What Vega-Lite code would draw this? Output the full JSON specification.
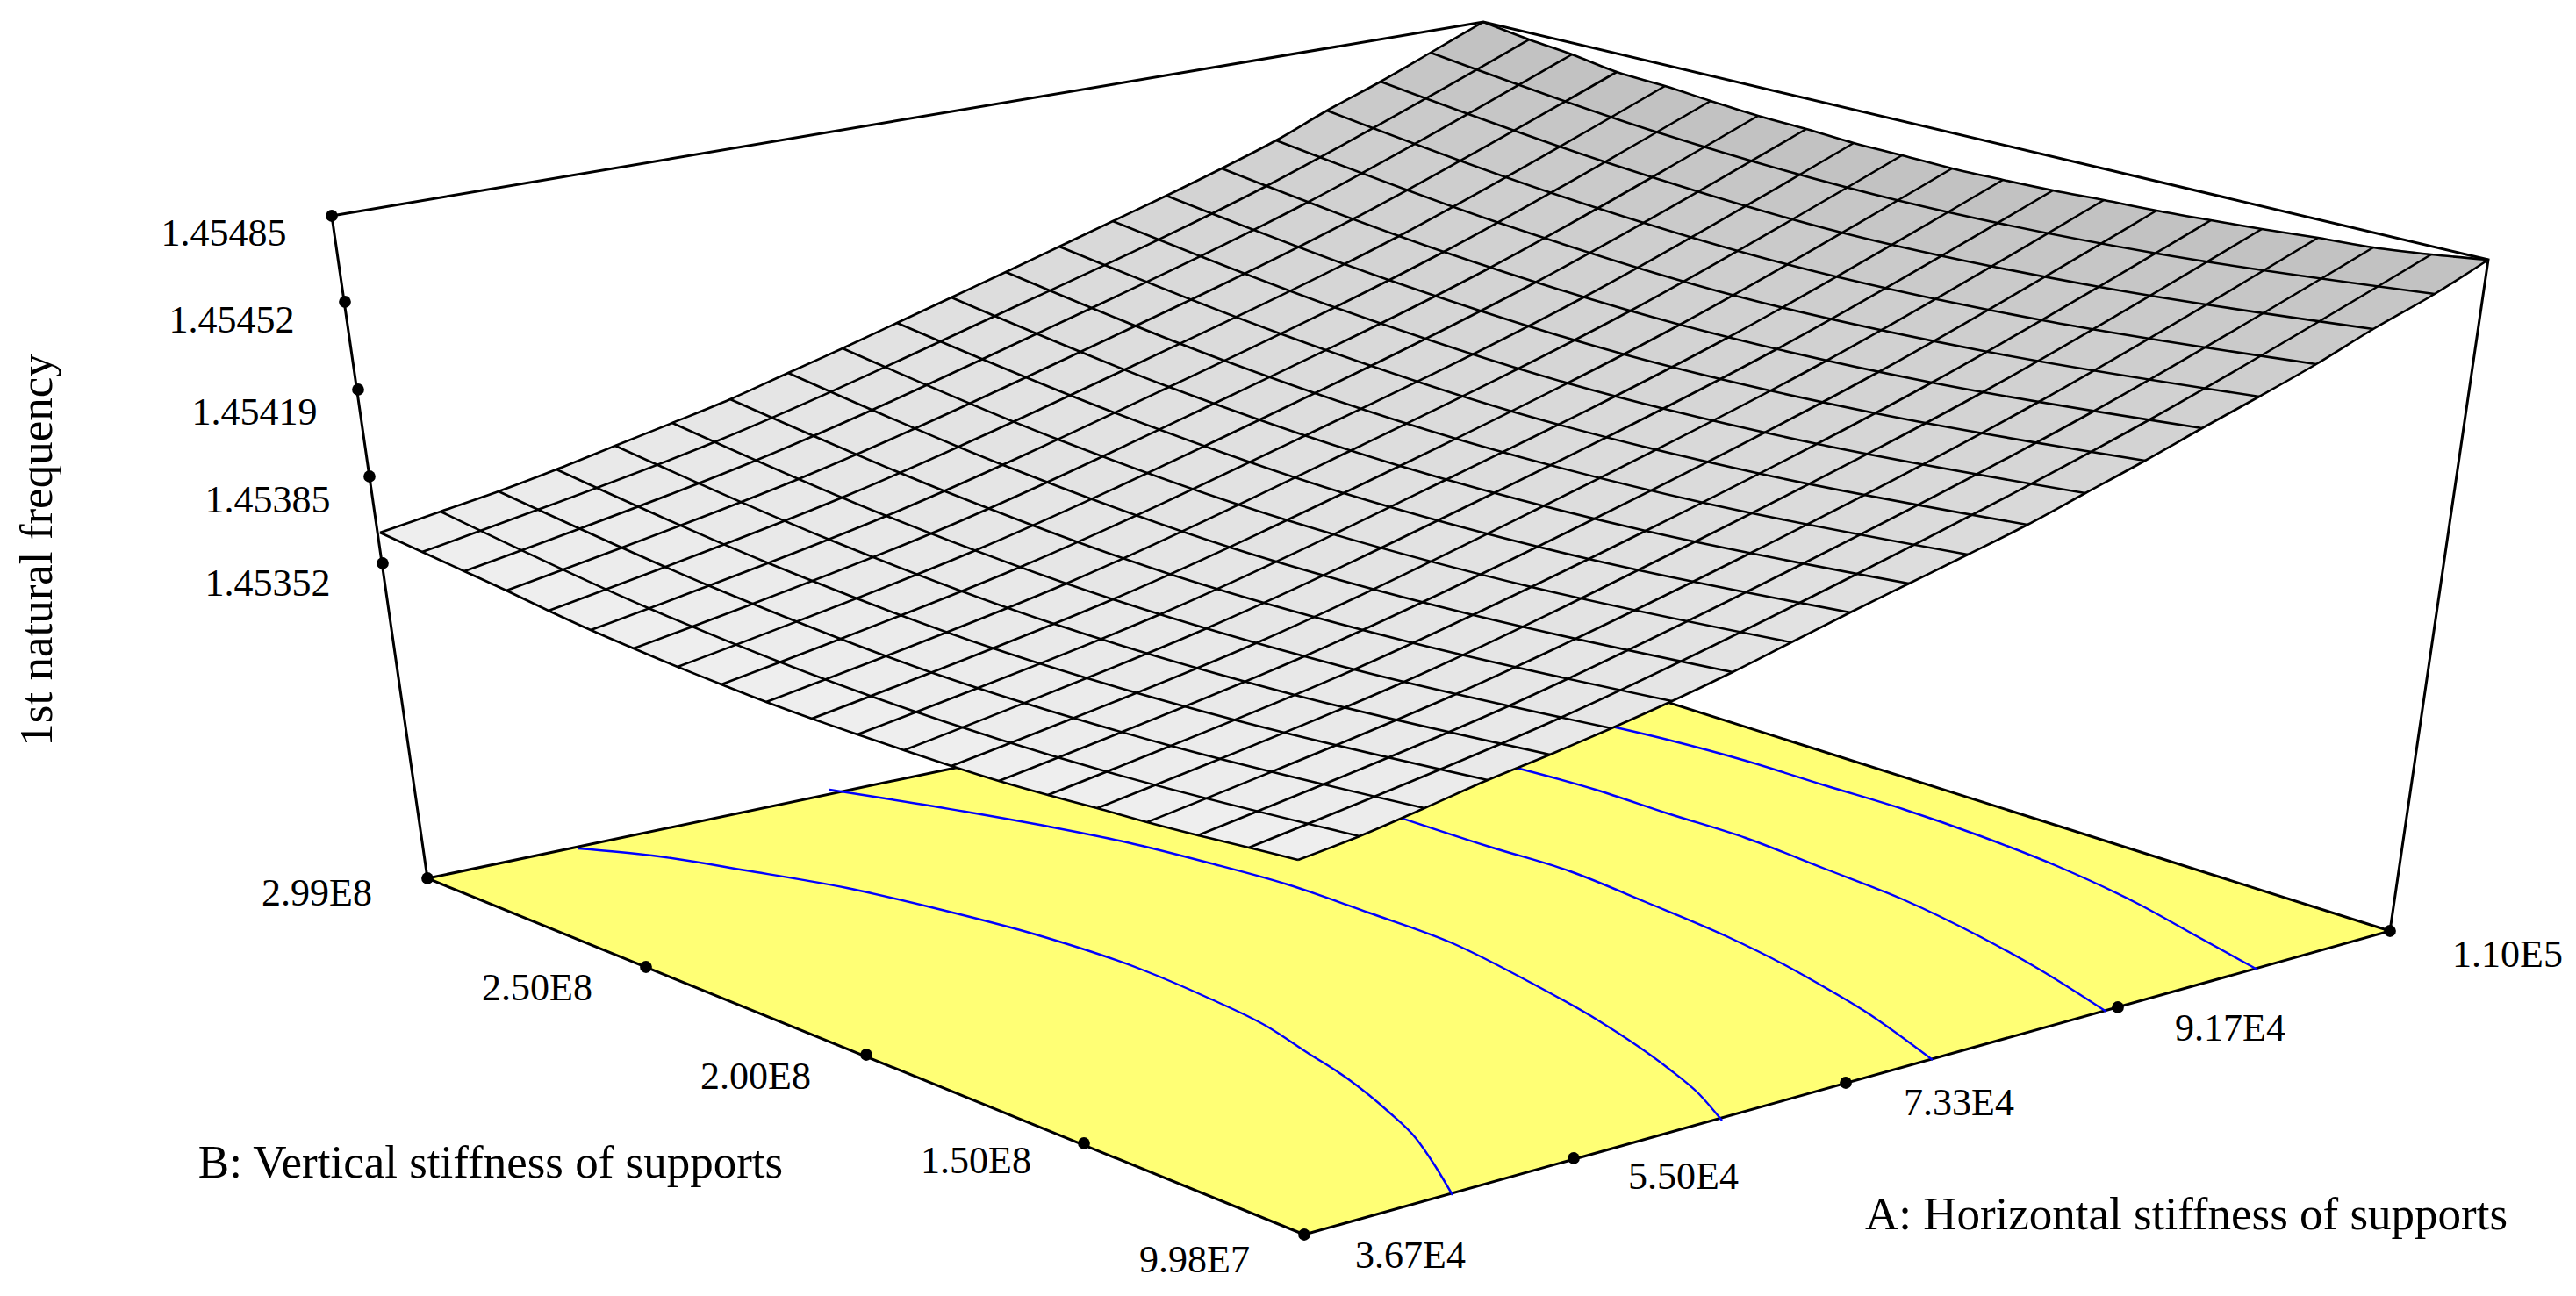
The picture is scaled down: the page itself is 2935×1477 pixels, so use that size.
{"$schema":"https://vega.github.io/schema/vega-lite/v6.json","width":2935,"height":1477,"autosize":{"type":"fit","contains":"padding"},"padding":0,"background":"white","config":{"view":{"stroke":null}},
"datasets":{
"floor":[{"i":0,"x":1486,"y":1407},{"i":1,"x":487,"y":1001},{"i":2,"x":1719,"y":743},{"i":3,"x":2723,"y":1061},{"i":4,"x":1486,"y":1407}],
"contours":[
{"line":"c1","i":0,"x":659,"y":967},{"line":"c1","i":1,"x":743,"y":975},{"line":"c1","i":2,"x":850,"y":992},{"line":"c1","i":3,"x":965,"y":1012},{"line":"c1","i":4,"x":1065,"y":1035},{"line":"c1","i":5,"x":1180,"y":1065},{"line":"c1","i":6,"x":1301,"y":1105},{"line":"c1","i":7,"x":1376,"y":1137},{"line":"c1","i":8,"x":1444,"y":1170},{"line":"c1","i":9,"x":1490,"y":1200},{"line":"c1","i":10,"x":1535,"y":1229},{"line":"c1","i":11,"x":1582,"y":1267},{"line":"c1","i":12,"x":1613,"y":1297},{"line":"c1","i":13,"x":1634,"y":1327},{"line":"c1","i":14,"x":1655,"y":1362},
{"line":"c2","i":0,"x":945,"y":900},{"line":"c2","i":1,"x":1100,"y":925},{"line":"c2","i":2,"x":1195,"y":942},{"line":"c2","i":3,"x":1284,"y":960},{"line":"c2","i":4,"x":1376,"y":983},{"line":"c2","i":5,"x":1467,"y":1008},{"line":"c2","i":6,"x":1559,"y":1040},{"line":"c2","i":7,"x":1655,"y":1075},{"line":"c2","i":8,"x":1748,"y":1122},{"line":"c2","i":9,"x":1821,"y":1163},{"line":"c2","i":10,"x":1900,"y":1217},{"line":"c2","i":11,"x":1936,"y":1247},{"line":"c2","i":12,"x":1962,"y":1277},
{"line":"c3","i":0,"x":1560,"y":920},{"line":"c3","i":1,"x":1697,"y":965},{"line":"c3","i":2,"x":1789,"y":993},{"line":"c3","i":3,"x":1875,"y":1028},{"line":"c3","i":4,"x":1967,"y":1067},{"line":"c3","i":5,"x":2034,"y":1100},{"line":"c3","i":6,"x":2070,"y":1120},{"line":"c3","i":7,"x":2124,"y":1152},{"line":"c3","i":8,"x":2202,"y":1208},
{"line":"c4","i":0,"x":1700,"y":868},{"line":"c4","i":1,"x":1818,"y":900},{"line":"c4","i":2,"x":1900,"y":927},{"line":"c4","i":3,"x":1989,"y":955},{"line":"c4","i":4,"x":2079,"y":990},{"line":"c4","i":5,"x":2168,"y":1025},{"line":"c4","i":6,"x":2257,"y":1068},{"line":"c4","i":7,"x":2324,"y":1105},{"line":"c4","i":8,"x":2400,"y":1153},
{"line":"c5","i":0,"x":1810,"y":822},{"line":"c5","i":1,"x":1900,"y":843},{"line":"c5","i":2,"x":1989,"y":867},{"line":"c5","i":3,"x":2079,"y":895},{"line":"c5","i":4,"x":2168,"y":922},{"line":"c5","i":5,"x":2257,"y":953},{"line":"c5","i":6,"x":2346,"y":988},{"line":"c5","i":7,"x":2436,"y":1030},{"line":"c5","i":8,"x":2503,"y":1067},{"line":"c5","i":9,"x":2572,"y":1105}],
"strips":[
{"u":0,"i":0,"x":1549,"y":953},{"u":0,"i":1,"x":1263,"y":880},{"u":0,"i":2,"x":994,"y":794},{"u":0,"i":3,"x":741,"y":694},{"u":0,"i":4,"x":502,"y":583},{"u":0,"i":5,"x":433,"y":607},{"u":0,"i":6,"x":481,"y":629},{"u":0,"i":7,"x":529,"y":651},{"u":0,"i":8,"x":577,"y":673},{"u":0,"i":9,"x":625,"y":696},{"u":0,"i":10,"x":673,"y":718},{"u":0,"i":11,"x":722,"y":739},{"u":0,"i":12,"x":772,"y":760},{"u":0,"i":13,"x":822,"y":780},{"u":0,"i":14,"x":873,"y":800},{"u":0,"i":15,"x":925,"y":819},{"u":0,"i":16,"x":977,"y":837},{"u":0,"i":17,"x":1030,"y":855},{"u":0,"i":18,"x":1084,"y":873},{"u":0,"i":19,"x":1138,"y":890},{"u":0,"i":20,"x":1194,"y":906},{"u":0,"i":21,"x":1250,"y":921},{"u":0,"i":22,"x":1307,"y":937},{"u":0,"i":23,"x":1365,"y":952},{"u":0,"i":24,"x":1423,"y":966},{"u":0,"i":25,"x":1479,"y":980},
{"u":1,"i":0,"x":1623,"y":921},{"u":1,"i":1,"x":1334,"y":850},{"u":1,"i":2,"x":1063,"y":767},{"u":1,"i":3,"x":809,"y":668},{"u":1,"i":4,"x":568,"y":560},{"u":1,"i":5,"x":502,"y":583},{"u":1,"i":6,"x":741,"y":694},{"u":1,"i":7,"x":994,"y":794},{"u":1,"i":8,"x":1263,"y":880},{"u":1,"i":9,"x":1549,"y":953},
{"u":2,"i":0,"x":1695,"y":889},{"u":2,"i":1,"x":1405,"y":820},{"u":2,"i":2,"x":1132,"y":739},{"u":2,"i":3,"x":876,"y":642},{"u":2,"i":4,"x":634,"y":535},{"u":2,"i":5,"x":568,"y":560},{"u":2,"i":6,"x":809,"y":668},{"u":2,"i":7,"x":1063,"y":767},{"u":2,"i":8,"x":1334,"y":850},{"u":2,"i":9,"x":1623,"y":921},
{"u":3,"i":0,"x":1766,"y":860},{"u":3,"i":1,"x":1475,"y":792},{"u":3,"i":2,"x":1201,"y":711},{"u":3,"i":3,"x":945,"y":615},{"u":3,"i":4,"x":701,"y":508},{"u":3,"i":5,"x":634,"y":535},{"u":3,"i":6,"x":876,"y":642},{"u":3,"i":7,"x":1132,"y":739},{"u":3,"i":8,"x":1405,"y":820},{"u":3,"i":9,"x":1695,"y":889},
{"u":4,"i":0,"x":1836,"y":830},{"u":4,"i":1,"x":1543,"y":763},{"u":4,"i":2,"x":1268,"y":683},{"u":4,"i":3,"x":1010,"y":588},{"u":4,"i":4,"x":766,"y":482},{"u":4,"i":5,"x":701,"y":508},{"u":4,"i":6,"x":945,"y":615},{"u":4,"i":7,"x":1201,"y":711},{"u":4,"i":8,"x":1475,"y":792},{"u":4,"i":9,"x":1766,"y":860},
{"u":5,"i":0,"x":1905,"y":799},{"u":5,"i":1,"x":1611,"y":733},{"u":5,"i":2,"x":1335,"y":655},{"u":5,"i":3,"x":1077,"y":560},{"u":5,"i":4,"x":832,"y":455},{"u":5,"i":5,"x":766,"y":482},{"u":5,"i":6,"x":1010,"y":588},{"u":5,"i":7,"x":1268,"y":683},{"u":5,"i":8,"x":1543,"y":763},{"u":5,"i":9,"x":1836,"y":830},
{"u":6,"i":0,"x":1974,"y":766},{"u":6,"i":1,"x":1679,"y":701},{"u":6,"i":2,"x":1402,"y":624},{"u":6,"i":3,"x":1143,"y":530},{"u":6,"i":4,"x":898,"y":425},{"u":6,"i":5,"x":832,"y":455},{"u":6,"i":6,"x":1077,"y":560},{"u":6,"i":7,"x":1335,"y":655},{"u":6,"i":8,"x":1611,"y":733},{"u":6,"i":9,"x":1905,"y":799},
{"u":7,"i":0,"x":2041,"y":732},{"u":7,"i":1,"x":1745,"y":669},{"u":7,"i":2,"x":1467,"y":593},{"u":7,"i":3,"x":1206,"y":501},{"u":7,"i":4,"x":960,"y":397},{"u":7,"i":5,"x":898,"y":425},{"u":7,"i":6,"x":1143,"y":530},{"u":7,"i":7,"x":1402,"y":624},{"u":7,"i":8,"x":1679,"y":701},{"u":7,"i":9,"x":1974,"y":766},
{"u":8,"i":0,"x":2108,"y":698},{"u":8,"i":1,"x":1810,"y":637},{"u":8,"i":2,"x":1531,"y":562},{"u":8,"i":3,"x":1269,"y":470},{"u":8,"i":4,"x":1022,"y":368},{"u":8,"i":5,"x":960,"y":397},{"u":8,"i":6,"x":1206,"y":501},{"u":8,"i":7,"x":1467,"y":593},{"u":8,"i":8,"x":1745,"y":669},{"u":8,"i":9,"x":2041,"y":732},
{"u":9,"i":0,"x":2175,"y":665},{"u":9,"i":1,"x":1875,"y":605},{"u":9,"i":2,"x":1595,"y":531},{"u":9,"i":3,"x":1332,"y":441},{"u":9,"i":4,"x":1084,"y":339},{"u":9,"i":5,"x":1022,"y":368},{"u":9,"i":6,"x":1269,"y":470},{"u":9,"i":7,"x":1531,"y":562},{"u":9,"i":8,"x":1810,"y":637},{"u":9,"i":9,"x":2108,"y":698},
{"u":10,"i":0,"x":2242,"y":632},{"u":10,"i":1,"x":1941,"y":573},{"u":10,"i":2,"x":1659,"y":500},{"u":10,"i":3,"x":1395,"y":411},{"u":10,"i":4,"x":1146,"y":310},{"u":10,"i":5,"x":1084,"y":339},{"u":10,"i":6,"x":1332,"y":441},{"u":10,"i":7,"x":1595,"y":531},{"u":10,"i":8,"x":1875,"y":605},{"u":10,"i":9,"x":2175,"y":665},
{"u":11,"i":0,"x":2310,"y":598},{"u":11,"i":1,"x":2006,"y":540},{"u":11,"i":2,"x":1723,"y":469},{"u":11,"i":3,"x":1458,"y":380},{"u":11,"i":4,"x":1207,"y":281},{"u":11,"i":5,"x":1146,"y":310},{"u":11,"i":6,"x":1395,"y":411},{"u":11,"i":7,"x":1659,"y":500},{"u":11,"i":8,"x":1941,"y":573},{"u":11,"i":9,"x":2242,"y":632},
{"u":12,"i":0,"x":2376,"y":562},{"u":12,"i":1,"x":2071,"y":506},{"u":12,"i":2,"x":1787,"y":437},{"u":12,"i":3,"x":1520,"y":350},{"u":12,"i":4,"x":1268,"y":252},{"u":12,"i":5,"x":1207,"y":281},{"u":12,"i":6,"x":1458,"y":380},{"u":12,"i":7,"x":1723,"y":469},{"u":12,"i":8,"x":2006,"y":540},{"u":12,"i":9,"x":2310,"y":598},
{"u":13,"i":0,"x":2444,"y":525},{"u":13,"i":1,"x":2137,"y":471},{"u":13,"i":2,"x":1851,"y":404},{"u":13,"i":3,"x":1582,"y":319},{"u":13,"i":4,"x":1329,"y":223},{"u":13,"i":5,"x":1268,"y":252},{"u":13,"i":6,"x":1520,"y":350},{"u":13,"i":7,"x":1787,"y":437},{"u":13,"i":8,"x":2071,"y":506},{"u":13,"i":9,"x":2376,"y":562},
{"u":14,"i":0,"x":2509,"y":488},{"u":14,"i":1,"x":2201,"y":436},{"u":14,"i":2,"x":1914,"y":370},{"u":14,"i":3,"x":1645,"y":287},{"u":14,"i":4,"x":1392,"y":192},{"u":14,"i":5,"x":1329,"y":223},{"u":14,"i":6,"x":1582,"y":319},{"u":14,"i":7,"x":1851,"y":404},{"u":14,"i":8,"x":2137,"y":471},{"u":14,"i":9,"x":2444,"y":525},
{"u":15,"i":0,"x":2574,"y":452},{"u":15,"i":1,"x":2265,"y":401},{"u":15,"i":2,"x":1977,"y":337},{"u":15,"i":3,"x":1708,"y":254},{"u":15,"i":4,"x":1454,"y":160},{"u":15,"i":5,"x":1392,"y":192},{"u":15,"i":6,"x":1645,"y":287},{"u":15,"i":7,"x":1914,"y":370},{"u":15,"i":8,"x":2201,"y":436},{"u":15,"i":9,"x":2509,"y":488},
{"u":16,"i":0,"x":2639,"y":415},{"u":16,"i":1,"x":2327,"y":365},{"u":16,"i":2,"x":2039,"y":302},{"u":16,"i":3,"x":1768,"y":220},{"u":16,"i":4,"x":1512,"y":126},{"u":16,"i":5,"x":1454,"y":160},{"u":16,"i":6,"x":1708,"y":254},{"u":16,"i":7,"x":1977,"y":337},{"u":16,"i":8,"x":2265,"y":401},{"u":16,"i":9,"x":2574,"y":452},
{"u":17,"i":0,"x":2704,"y":375},{"u":17,"i":1,"x":2392,"y":327},{"u":17,"i":2,"x":2102,"y":266},{"u":17,"i":3,"x":1830,"y":185},{"u":17,"i":4,"x":1573,"y":93},{"u":17,"i":5,"x":1512,"y":126},{"u":17,"i":6,"x":1768,"y":220},{"u":17,"i":7,"x":2039,"y":302},{"u":17,"i":8,"x":2327,"y":365},{"u":17,"i":9,"x":2639,"y":415},
{"u":18,"i":0,"x":2774,"y":335},{"u":18,"i":1,"x":2458,"y":289},{"u":18,"i":2,"x":2165,"y":229},{"u":18,"i":3,"x":1889,"y":151},{"u":18,"i":4,"x":1630,"y":60},{"u":18,"i":5,"x":1573,"y":93},{"u":18,"i":6,"x":1830,"y":185},{"u":18,"i":7,"x":2102,"y":266},{"u":18,"i":8,"x":2392,"y":327},{"u":18,"i":9,"x":2704,"y":375},
{"u":19,"i":0,"x":2835,"y":296},{"u":19,"i":1,"x":2770,"y":290},{"u":19,"i":2,"x":2704,"y":282},{"u":19,"i":3,"x":2641,"y":271},{"u":19,"i":4,"x":2577,"y":261},{"u":19,"i":5,"x":2519,"y":251},{"u":19,"i":6,"x":2457,"y":240},{"u":19,"i":7,"x":2397,"y":228},{"u":19,"i":8,"x":2339,"y":217},{"u":19,"i":9,"x":2282,"y":205},{"u":19,"i":10,"x":2224,"y":192},{"u":19,"i":11,"x":2167,"y":177},{"u":19,"i":12,"x":2112,"y":163},{"u":19,"i":13,"x":2058,"y":147},{"u":19,"i":14,"x":2003,"y":132},{"u":19,"i":15,"x":1949,"y":115},{"u":19,"i":16,"x":1897,"y":98},{"u":19,"i":17,"x":1842,"y":82},{"u":19,"i":18,"x":1791,"y":62},{"u":19,"i":19,"x":1742,"y":45},{"u":19,"i":20,"x":1690,"y":25},{"u":19,"i":21,"x":1630,"y":60},{"u":19,"i":22,"x":1889,"y":151},{"u":19,"i":23,"x":2165,"y":229},{"u":19,"i":24,"x":2458,"y":289},{"u":19,"i":25,"x":2774,"y":335}],
"grid":[
{"line":"u0","i":0,"x":1479,"y":980},{"line":"u0","i":1,"x":1423,"y":966},{"line":"u0","i":2,"x":1365,"y":952},{"line":"u0","i":3,"x":1307,"y":937},{"line":"u0","i":4,"x":1250,"y":921},{"line":"u0","i":5,"x":1194,"y":906},{"line":"u0","i":6,"x":1138,"y":890},{"line":"u0","i":7,"x":1084,"y":873},{"line":"u0","i":8,"x":1030,"y":855},{"line":"u0","i":9,"x":977,"y":837},{"line":"u0","i":10,"x":925,"y":819},{"line":"u0","i":11,"x":873,"y":800},{"line":"u0","i":12,"x":822,"y":780},{"line":"u0","i":13,"x":772,"y":760},{"line":"u0","i":14,"x":722,"y":739},{"line":"u0","i":15,"x":673,"y":718},{"line":"u0","i":16,"x":625,"y":696},{"line":"u0","i":17,"x":577,"y":673},{"line":"u0","i":18,"x":529,"y":651},{"line":"u0","i":19,"x":481,"y":629},{"line":"u0","i":20,"x":433,"y":607},
{"line":"u1","i":0,"x":1549,"y":953},{"line":"u1","i":1,"x":1263,"y":880},{"line":"u1","i":2,"x":994,"y":794},{"line":"u1","i":3,"x":741,"y":694},{"line":"u1","i":4,"x":502,"y":583},
{"line":"u2","i":0,"x":1623,"y":921},{"line":"u2","i":1,"x":1334,"y":850},{"line":"u2","i":2,"x":1063,"y":767},{"line":"u2","i":3,"x":809,"y":668},{"line":"u2","i":4,"x":568,"y":560},
{"line":"u3","i":0,"x":1695,"y":889},{"line":"u3","i":1,"x":1405,"y":820},{"line":"u3","i":2,"x":1132,"y":739},{"line":"u3","i":3,"x":876,"y":642},{"line":"u3","i":4,"x":634,"y":535},
{"line":"u4","i":0,"x":1766,"y":860},{"line":"u4","i":1,"x":1475,"y":792},{"line":"u4","i":2,"x":1201,"y":711},{"line":"u4","i":3,"x":945,"y":615},{"line":"u4","i":4,"x":701,"y":508},
{"line":"u5","i":0,"x":1836,"y":830},{"line":"u5","i":1,"x":1543,"y":763},{"line":"u5","i":2,"x":1268,"y":683},{"line":"u5","i":3,"x":1010,"y":588},{"line":"u5","i":4,"x":766,"y":482},
{"line":"u6","i":0,"x":1905,"y":799},{"line":"u6","i":1,"x":1611,"y":733},{"line":"u6","i":2,"x":1335,"y":655},{"line":"u6","i":3,"x":1077,"y":560},{"line":"u6","i":4,"x":832,"y":455},
{"line":"u7","i":0,"x":1974,"y":766},{"line":"u7","i":1,"x":1679,"y":701},{"line":"u7","i":2,"x":1402,"y":624},{"line":"u7","i":3,"x":1143,"y":530},{"line":"u7","i":4,"x":898,"y":425},
{"line":"u8","i":0,"x":2041,"y":732},{"line":"u8","i":1,"x":1745,"y":669},{"line":"u8","i":2,"x":1467,"y":593},{"line":"u8","i":3,"x":1206,"y":501},{"line":"u8","i":4,"x":960,"y":397},
{"line":"u9","i":0,"x":2108,"y":698},{"line":"u9","i":1,"x":1810,"y":637},{"line":"u9","i":2,"x":1531,"y":562},{"line":"u9","i":3,"x":1269,"y":470},{"line":"u9","i":4,"x":1022,"y":368},
{"line":"u10","i":0,"x":2175,"y":665},{"line":"u10","i":1,"x":1875,"y":605},{"line":"u10","i":2,"x":1595,"y":531},{"line":"u10","i":3,"x":1332,"y":441},{"line":"u10","i":4,"x":1084,"y":339},
{"line":"u11","i":0,"x":2242,"y":632},{"line":"u11","i":1,"x":1941,"y":573},{"line":"u11","i":2,"x":1659,"y":500},{"line":"u11","i":3,"x":1395,"y":411},{"line":"u11","i":4,"x":1146,"y":310},
{"line":"u12","i":0,"x":2310,"y":598},{"line":"u12","i":1,"x":2006,"y":540},{"line":"u12","i":2,"x":1723,"y":469},{"line":"u12","i":3,"x":1458,"y":380},{"line":"u12","i":4,"x":1207,"y":281},
{"line":"u13","i":0,"x":2376,"y":562},{"line":"u13","i":1,"x":2071,"y":506},{"line":"u13","i":2,"x":1787,"y":437},{"line":"u13","i":3,"x":1520,"y":350},{"line":"u13","i":4,"x":1268,"y":252},
{"line":"u14","i":0,"x":2444,"y":525},{"line":"u14","i":1,"x":2137,"y":471},{"line":"u14","i":2,"x":1851,"y":404},{"line":"u14","i":3,"x":1582,"y":319},{"line":"u14","i":4,"x":1329,"y":223},
{"line":"u15","i":0,"x":2509,"y":488},{"line":"u15","i":1,"x":2201,"y":436},{"line":"u15","i":2,"x":1914,"y":370},{"line":"u15","i":3,"x":1645,"y":287},{"line":"u15","i":4,"x":1392,"y":192},
{"line":"u16","i":0,"x":2574,"y":452},{"line":"u16","i":1,"x":2265,"y":401},{"line":"u16","i":2,"x":1977,"y":337},{"line":"u16","i":3,"x":1708,"y":254},{"line":"u16","i":4,"x":1454,"y":160},
{"line":"u17","i":0,"x":2639,"y":415},{"line":"u17","i":1,"x":2327,"y":365},{"line":"u17","i":2,"x":2039,"y":302},{"line":"u17","i":3,"x":1768,"y":220},{"line":"u17","i":4,"x":1512,"y":126},
{"line":"u18","i":0,"x":2704,"y":375},{"line":"u18","i":1,"x":2392,"y":327},{"line":"u18","i":2,"x":2102,"y":266},{"line":"u18","i":3,"x":1830,"y":185},{"line":"u18","i":4,"x":1573,"y":93},
{"line":"u19","i":0,"x":2774,"y":335},{"line":"u19","i":1,"x":2458,"y":289},{"line":"u19","i":2,"x":2165,"y":229},{"line":"u19","i":3,"x":1889,"y":151},{"line":"u19","i":4,"x":1630,"y":60},
{"line":"u20","i":0,"x":2835,"y":296},{"line":"u20","i":1,"x":2770,"y":290},{"line":"u20","i":2,"x":2704,"y":282},{"line":"u20","i":3,"x":2641,"y":271},{"line":"u20","i":4,"x":2577,"y":261},{"line":"u20","i":5,"x":2519,"y":251},{"line":"u20","i":6,"x":2457,"y":240},{"line":"u20","i":7,"x":2397,"y":228},{"line":"u20","i":8,"x":2339,"y":217},{"line":"u20","i":9,"x":2282,"y":205},{"line":"u20","i":10,"x":2224,"y":192},{"line":"u20","i":11,"x":2167,"y":177},{"line":"u20","i":12,"x":2112,"y":163},{"line":"u20","i":13,"x":2058,"y":147},{"line":"u20","i":14,"x":2003,"y":132},{"line":"u20","i":15,"x":1949,"y":115},{"line":"u20","i":16,"x":1897,"y":98},{"line":"u20","i":17,"x":1842,"y":82},{"line":"u20","i":18,"x":1791,"y":62},{"line":"u20","i":19,"x":1742,"y":45},{"line":"u20","i":20,"x":1690,"y":25},
{"line":"v0","i":0,"x":1479,"y":980},{"line":"v0","i":1,"x":1549,"y":953},{"line":"v0","i":2,"x":1623,"y":921},{"line":"v0","i":3,"x":1695,"y":889},{"line":"v0","i":4,"x":1766,"y":860},{"line":"v0","i":5,"x":1836,"y":830},{"line":"v0","i":6,"x":1905,"y":799},{"line":"v0","i":7,"x":1974,"y":766},{"line":"v0","i":8,"x":2041,"y":732},{"line":"v0","i":9,"x":2108,"y":698},{"line":"v0","i":10,"x":2175,"y":665},{"line":"v0","i":11,"x":2242,"y":632},{"line":"v0","i":12,"x":2310,"y":598},{"line":"v0","i":13,"x":2376,"y":562},{"line":"v0","i":14,"x":2444,"y":525},{"line":"v0","i":15,"x":2509,"y":488},{"line":"v0","i":16,"x":2574,"y":452},{"line":"v0","i":17,"x":2639,"y":415},{"line":"v0","i":18,"x":2704,"y":375},{"line":"v0","i":19,"x":2774,"y":335},{"line":"v0","i":20,"x":2835,"y":296},
{"line":"v1","i":0,"x":1423,"y":966},{"line":"v1","i":1,"x":1778,"y":818},{"line":"v1","i":2,"x":2114,"y":655},{"line":"v1","i":3,"x":2446,"y":480},{"line":"v1","i":4,"x":2770,"y":290},
{"line":"v2","i":0,"x":1365,"y":952},{"line":"v2","i":1,"x":1718,"y":805},{"line":"v2","i":2,"x":2053,"y":643},{"line":"v2","i":3,"x":2383,"y":470},{"line":"v2","i":4,"x":2704,"y":282},
{"line":"v3","i":0,"x":1307,"y":937},{"line":"v3","i":1,"x":1659,"y":791},{"line":"v3","i":2,"x":1993,"y":631},{"line":"v3","i":3,"x":2321,"y":459},{"line":"v3","i":4,"x":2641,"y":271},
{"line":"v4","i":0,"x":1250,"y":921},{"line":"v4","i":1,"x":1600,"y":777},{"line":"v4","i":2,"x":1932,"y":617},{"line":"v4","i":3,"x":2259,"y":447},{"line":"v4","i":4,"x":2577,"y":261},
{"line":"v5","i":0,"x":1194,"y":906},{"line":"v5","i":1,"x":1543,"y":763},{"line":"v5","i":2,"x":1875,"y":605},{"line":"v5","i":3,"x":2201,"y":436},{"line":"v5","i":4,"x":2519,"y":251},
{"line":"v6","i":0,"x":1138,"y":890},{"line":"v6","i":1,"x":1486,"y":748},{"line":"v6","i":2,"x":1817,"y":591},{"line":"v6","i":3,"x":2142,"y":423},{"line":"v6","i":4,"x":2457,"y":240},
{"line":"v7","i":0,"x":1084,"y":873},{"line":"v7","i":1,"x":1431,"y":733},{"line":"v7","i":2,"x":1760,"y":576},{"line":"v7","i":3,"x":2083,"y":410},{"line":"v7","i":4,"x":2397,"y":228},
{"line":"v8","i":0,"x":1030,"y":855},{"line":"v8","i":1,"x":1375,"y":716},{"line":"v8","i":2,"x":1704,"y":561},{"line":"v8","i":3,"x":2026,"y":397},{"line":"v8","i":4,"x":2339,"y":217},
{"line":"v9","i":0,"x":977,"y":837},{"line":"v9","i":1,"x":1322,"y":700},{"line":"v9","i":2,"x":1649,"y":546},{"line":"v9","i":3,"x":1970,"y":384},{"line":"v9","i":4,"x":2282,"y":205},
{"line":"v10","i":0,"x":925,"y":819},{"line":"v10","i":1,"x":1268,"y":683},{"line":"v10","i":2,"x":1595,"y":531},{"line":"v10","i":3,"x":1914,"y":370},{"line":"v10","i":4,"x":2224,"y":192},
{"line":"v11","i":0,"x":873,"y":800},{"line":"v11","i":1,"x":1215,"y":665},{"line":"v11","i":2,"x":1540,"y":513},{"line":"v11","i":3,"x":1858,"y":354},{"line":"v11","i":4,"x":2167,"y":177},
{"line":"v12","i":0,"x":822,"y":780},{"line":"v12","i":1,"x":1163,"y":646},{"line":"v12","i":2,"x":1488,"y":496},{"line":"v12","i":3,"x":1804,"y":339},{"line":"v12","i":4,"x":2112,"y":163},
{"line":"v13","i":0,"x":772,"y":760},{"line":"v13","i":1,"x":1112,"y":627},{"line":"v13","i":2,"x":1436,"y":478},{"line":"v13","i":3,"x":1751,"y":321},{"line":"v13","i":4,"x":2058,"y":147},
{"line":"v14","i":0,"x":722,"y":739},{"line":"v14","i":1,"x":1061,"y":608},{"line":"v14","i":2,"x":1383,"y":460},{"line":"v14","i":3,"x":1698,"y":305},{"line":"v14","i":4,"x":2003,"y":132},
{"line":"v15","i":0,"x":673,"y":718},{"line":"v15","i":1,"x":1010,"y":588},{"line":"v15","i":2,"x":1332,"y":441},{"line":"v15","i":3,"x":1645,"y":287},{"line":"v15","i":4,"x":1949,"y":115},
{"line":"v16","i":0,"x":625,"y":696},{"line":"v16","i":1,"x":962,"y":566},{"line":"v16","i":2,"x":1282,"y":421},{"line":"v16","i":3,"x":1594,"y":269},{"line":"v16","i":4,"x":1897,"y":98},
{"line":"v17","i":0,"x":577,"y":673},{"line":"v17","i":1,"x":912,"y":545},{"line":"v17","i":2,"x":1231,"y":401},{"line":"v17","i":3,"x":1541,"y":250},{"line":"v17","i":4,"x":1842,"y":82},
{"line":"v18","i":0,"x":529,"y":651},{"line":"v18","i":1,"x":863,"y":524},{"line":"v18","i":2,"x":1182,"y":380},{"line":"v18","i":3,"x":1491,"y":230},{"line":"v18","i":4,"x":1791,"y":62},
{"line":"v19","i":0,"x":481,"y":629},{"line":"v19","i":1,"x":816,"y":503},{"line":"v19","i":2,"x":1134,"y":360},{"line":"v19","i":3,"x":1443,"y":212},{"line":"v19","i":4,"x":1742,"y":45},
{"line":"v20","i":0,"x":433,"y":607},{"line":"v20","i":1,"x":502,"y":583},{"line":"v20","i":2,"x":568,"y":560},{"line":"v20","i":3,"x":634,"y":535},{"line":"v20","i":4,"x":701,"y":508},{"line":"v20","i":5,"x":766,"y":482},{"line":"v20","i":6,"x":832,"y":455},{"line":"v20","i":7,"x":898,"y":425},{"line":"v20","i":8,"x":960,"y":397},{"line":"v20","i":9,"x":1022,"y":368},{"line":"v20","i":10,"x":1084,"y":339},{"line":"v20","i":11,"x":1146,"y":310},{"line":"v20","i":12,"x":1207,"y":281},{"line":"v20","i":13,"x":1268,"y":252},{"line":"v20","i":14,"x":1329,"y":223},{"line":"v20","i":15,"x":1392,"y":192},{"line":"v20","i":16,"x":1454,"y":160},{"line":"v20","i":17,"x":1512,"y":126},{"line":"v20","i":18,"x":1573,"y":93},{"line":"v20","i":19,"x":1630,"y":60},{"line":"v20","i":20,"x":1690,"y":25}],
"frame":[{"i":0,"x":487,"y":1001},{"i":1,"x":378,"y":246},{"i":2,"x":1690,"y":25},{"i":3,"x":2835,"y":296},{"i":4,"x":2723,"y":1061}],
"dots":[{"x":378,"y":246},{"x":393,"y":344},{"x":408,"y":444},{"x":421,"y":543},{"x":436,"y":642},{"x":487,"y":1001},{"x":736,"y":1102},{"x":987,"y":1202},{"x":1235,"y":1303},{"x":1486,"y":1407},{"x":1793,"y":1320},{"x":2103,"y":1234},{"x":2413,"y":1148},{"x":2723,"y":1061}],
"labels":[{"t":"1.45485","x":255,"y":267},{"t":"1.45452","x":264,"y":366},{"t":"1.45419","x":290,"y":471},{"t":"1.45385","x":305,"y":571},{"t":"1.45352","x":305,"y":666},{"t":"2.99E8","x":361,"y":1019},{"t":"2.50E8","x":612,"y":1127},{"t":"2.00E8","x":861,"y":1228},{"t":"1.50E8","x":1112,"y":1324},{"t":"9.98E7","x":1361,"y":1437},{"t":"3.67E4","x":1607,"y":1432},{"t":"5.50E4","x":1918,"y":1342},{"t":"7.33E4","x":2232,"y":1258},{"t":"9.17E4","x":2541,"y":1173},{"t":"1.10E5","x":2857,"y":1089}],
"titles":[{"t":"A: Horizontal stiffness of supports","x":2491,"y":1385},{"t":"B: Vertical stiffness of supports","x":559,"y":1326}],
"ytitle":[{"t":"1st natural frequency","x":43,"y":627}]
},
"encoding":{"x":{"field":"x","type":"quantitative","scale":{"domain":[0,2935],"nice":false,"zero":false},"axis":null},"y":{"field":"y","type":"quantitative","scale":{"domain":[1477,0],"nice":false,"zero":false},"axis":null}},
"layer":[
{"data":{"name":"floor"},"mark":{"type":"line","fill":"#ffff75","stroke":"#000000","strokeWidth":3},"encoding":{"order":{"field":"i"}}},
{"data":{"name":"contours"},"mark":{"type":"line","stroke":"#0000ff","strokeWidth":2.4,"interpolate":"monotone"},"encoding":{"detail":{"field":"line"},"order":{"field":"i"}}},
{"data":{"name":"strips"},"mark":{"type":"line","strokeWidth":1.5},"encoding":{"color":{"field":"u","type":"quantitative","legend":null,"scale":{"domain":[0,8,12,16,19],"range":["#eeeeee","#e2e2e2","#d9d9d9","#cecece","#c2c2c2"]}},"fill":{"field":"u","type":"quantitative","legend":null,"scale":{"domain":[0,8,12,16,19],"range":["#eeeeee","#e2e2e2","#d9d9d9","#cecece","#c2c2c2"]}},"order":{"field":"i"}}},
{"data":{"name":"grid"},"mark":{"type":"line","stroke":"#000000","strokeWidth":2.6,"interpolate":"cardinal"},"encoding":{"detail":{"field":"line"},"order":{"field":"i"}}},
{"data":{"name":"frame"},"mark":{"type":"line","stroke":"#000000","strokeWidth":3},"encoding":{"order":{"field":"i"}}},
{"data":{"name":"dots"},"mark":{"type":"circle","color":"#000000","opacity":1,"size":190}},
{"data":{"name":"labels"},"mark":{"type":"text","font":"Liberation Serif","fontSize":44,"color":"#000000","align":"center","baseline":"middle"},"encoding":{"text":{"field":"t"}}},
{"data":{"name":"titles"},"mark":{"type":"text","font":"Liberation Serif","fontSize":53,"color":"#000000","align":"center","baseline":"middle"},"encoding":{"text":{"field":"t"}}},
{"data":{"name":"ytitle"},"mark":{"type":"text","font":"Liberation Serif","fontSize":53,"color":"#000000","align":"center","baseline":"middle","angle":270},"encoding":{"text":{"field":"t"}}}
]}
